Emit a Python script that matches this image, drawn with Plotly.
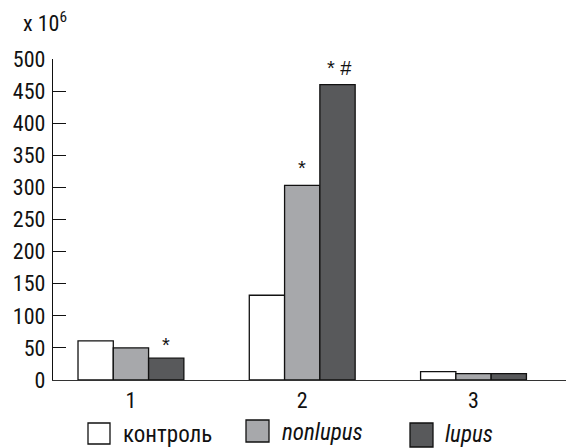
import plotly.graph_objects as go

categories = [1, 2, 3]
category_labels = ["1", "2", "3"]
series_names = ["контроль", "nonlupus", "lupus"]
control = [61, 132, 13]
nonlupus = [50, 303, 10]
lupus = [34, 460, 10]
y_ticks = [0, 50, 100, 150, 200, 250, 300, 350, 400, 450, 500]

colors = ["#ffffff", "#a7a8ab", "#58595b"]
legend_italic = [False, True, True]

W, H = 566, 448
L, R, T, B = 53, 0, 59, 68
PW, PH = W - L - R, H - T - B

def px(x):
    return (x - L) / PW

def py(y):
    return (H - B - y) / PH

NARROW = "Liberation Sans Narrow, Arial Narrow, Roboto Condensed, DejaVu Sans Condensed, sans-serif"
REG = "Liberation Sans, Arial, sans-serif"

fig = go.Figure()
for name, vals, col in zip(series_names, [control, nonlupus, lupus], colors):
    fig.add_trace(go.Bar(
        x=categories, y=vals, name=name,
        marker=dict(color=col, line=dict(color="#111111", width=1.3)),
        showlegend=False,
    ))

# significance marks
marks = [
    (1, lupus[0], "*", 0.207, 0),
    (2, nonlupus[1], "*", 0.0, 4),
    (2, lupus[1], "* #", 0.22, 4),
]
annotations = []
for cat, val, txt, off, ys in marks:
    annotations.append(dict(
        x=cat + off, y=val, xref="x", yref="y", text=txt, showarrow=False,
        yanchor="bottom", yshift=ys, font=dict(family=REG, size=20, color="#111111"),
    ))

# y-axis multiplier
annotations.append(dict(
    x=px(21), y=py(38), xref="paper", yref="paper", xanchor="left", yanchor="bottom",
    text="x 10<sup>6</sup>", showarrow=False,
    font=dict(family=NARROW, size=22, color="#111111"),
))

# custom legend
legend_boxes = [(88, 110, 423, 444), (246, 269, 420, 442), (410, 433, 423, 447)]
legend_text = [(121, 434), (280, 432), (443, 435)]
shapes = []
for (x0, x1, y0, y1), col, (tx, ty), name, it in zip(legend_boxes, colors, legend_text, series_names, legend_italic):
    shapes.append(dict(type="rect", xref="paper", yref="paper",
                       x0=px(x0), x1=px(x1), y0=py(y0), y1=py(y1),
                       fillcolor=col, line=dict(color="#111111", width=1.3)))
    annotations.append(dict(
        x=px(tx), y=py(ty), xref="paper", yref="paper", xanchor="left", yanchor="middle",
        text=f"<i>{name}</i>" if it else name, showarrow=False,
        font=dict(family=NARROW, size=23, color="#111111"),
    ))

fig.update_layout(
    width=W, height=H,
    margin=dict(l=L, r=R, t=T, b=B, autoexpand=False),
    paper_bgcolor="white", plot_bgcolor="white",
    barmode="group", bargap=0.382, bargroupgap=0,
    annotations=annotations, shapes=shapes,
    font=dict(family=NARROW, size=22, color="#111111"),
)
fig.update_xaxes(
    range=[0.545, 3.54], tickvals=categories, ticktext=category_labels,
    showline=True, linecolor="#333333", linewidth=1.3, ticks="", showgrid=False,
    zeroline=False, automargin=False, tickfont=dict(family=NARROW, size=22, color="#111111"),
)
fig.update_yaxes(
    range=[0, 500], tickvals=y_ticks, showline=True, linecolor="#111111", linewidth=1.3,
    ticks="inside", ticklen=13, tickwidth=1.3, tickcolor="#111111",
    showgrid=False, zeroline=False, ticklabelstandoff=2, automargin=False,
    tickfont=dict(family=NARROW, size=22, color="#111111"),
)

fig.write_html(
    "out.html",
    config={"displayModeBar": False},
    post_script="document.body.style.margin='0px';document.body.style.overflow='hidden';",
)
